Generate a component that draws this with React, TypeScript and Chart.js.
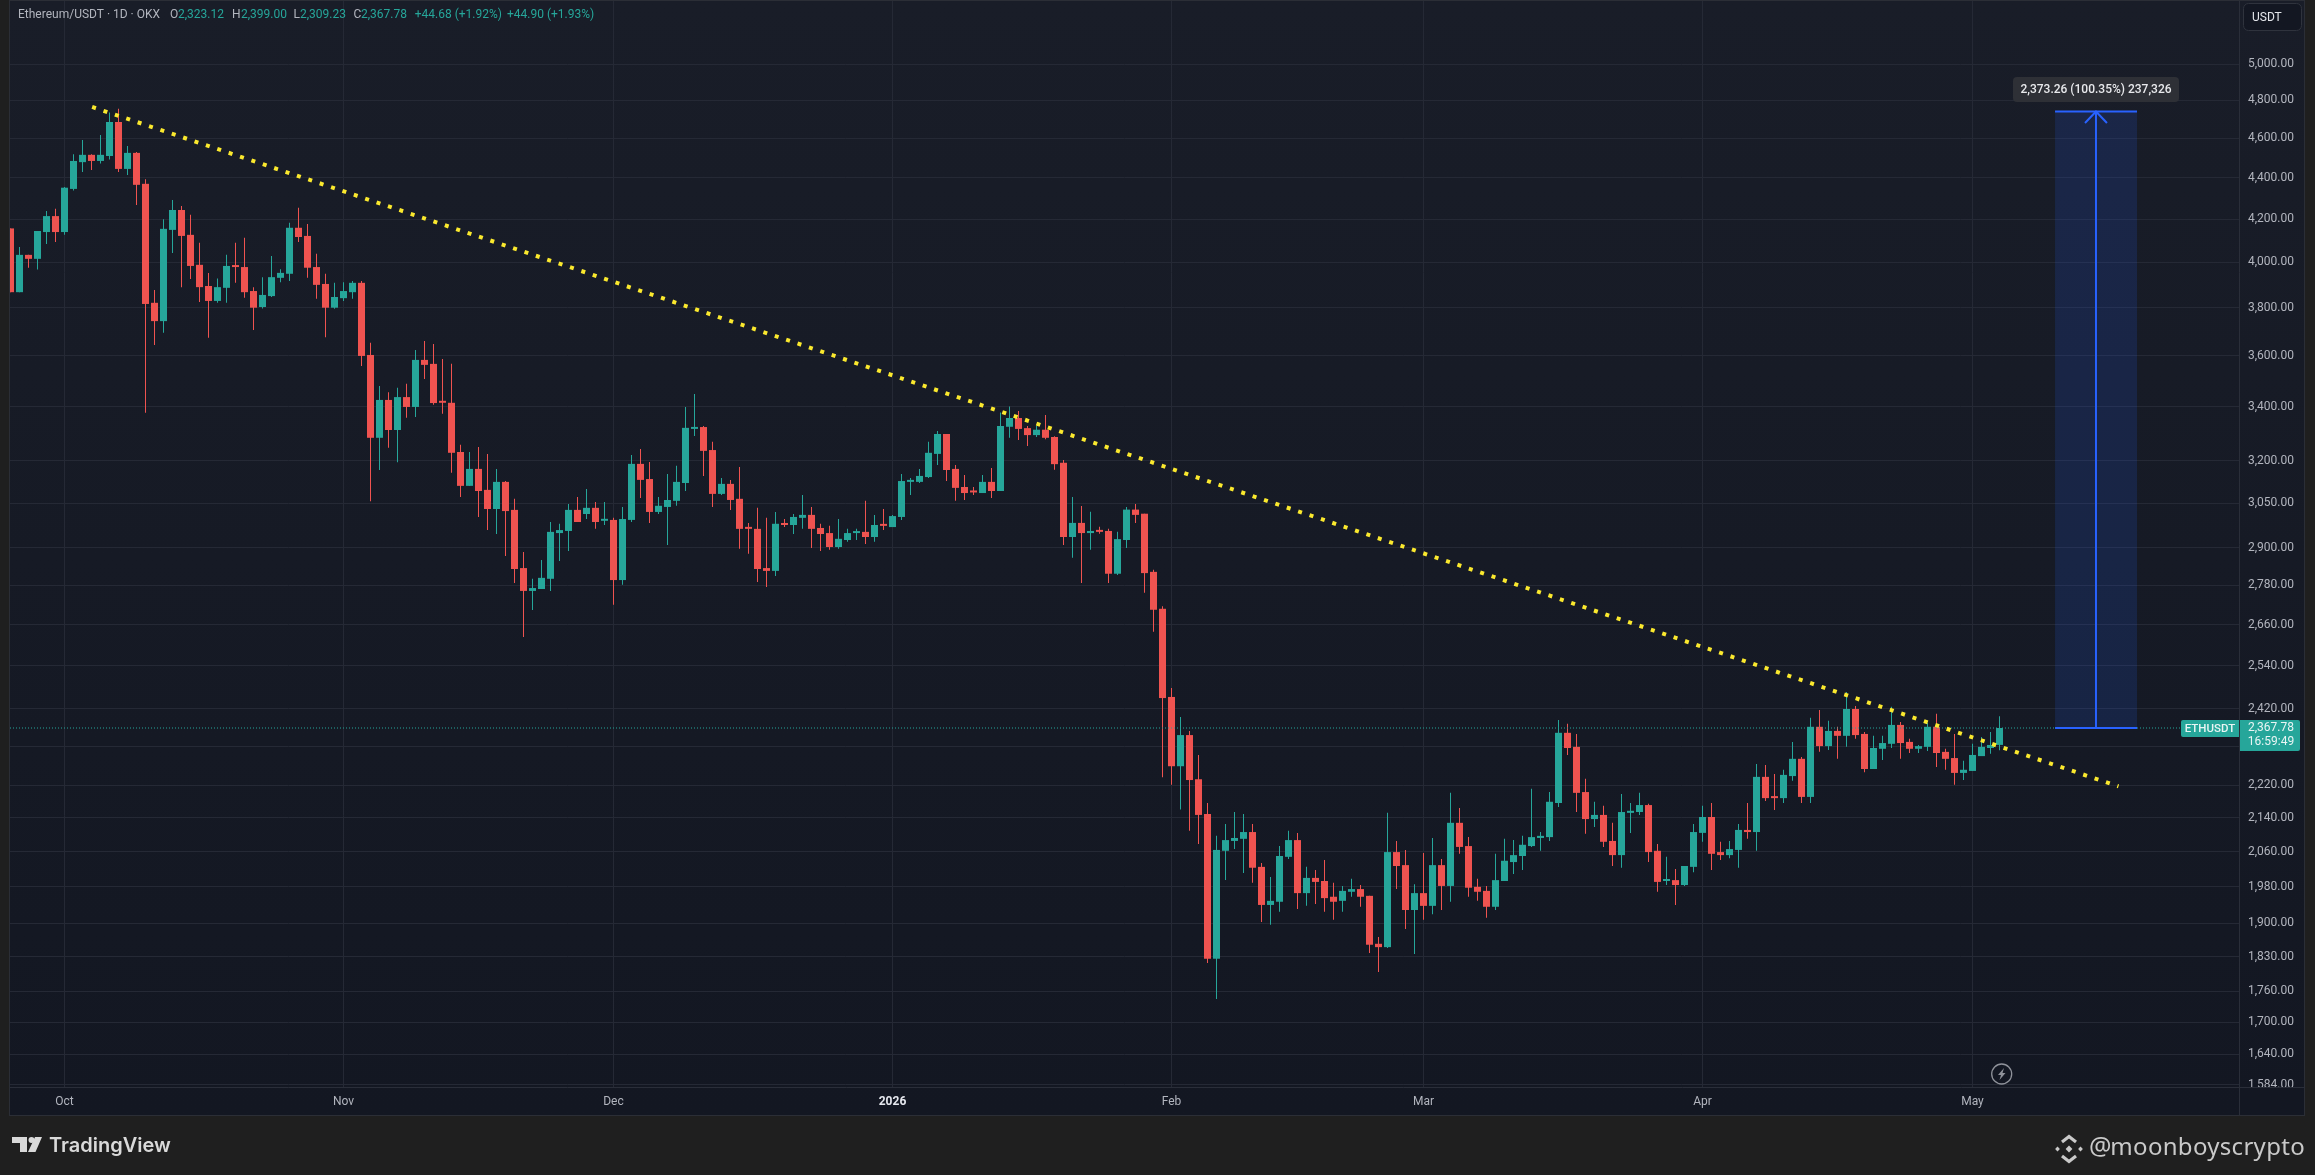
import React, { useEffect, useRef } from "react";
import { Chart, registerables } from "chart.js";

Chart.register(...registerables);

// Daily candles, 25 Sep 2025 (day -6 relative to 1 Oct) to 4 May 2026
const firstDay = -6;
const opens = [4156,3868,4034,4016,4139,4214,4139,4345,4478,4515,4484,4509,4685,4444,4525,4370,3822,3744,4149,4243,4126,3989,3895,3830,3887,3984,3979,3873,3804,3851,3931,3949,4159,4121,3979,3904,3801,3842,3868,3909,3604,3283,3426,3312,3437,3399,3584,3568,3418,3415,
3231,3110,3170,3096,3030,3124,3027,2835,2763,2769,2801,2949,2956,3027,3013,3034,2990,2993,2797,2993,3188,3134,3020,3037,3058,3120,3316,3323,3238,3082,3117,3065,2966,2963,2835,2826,2980,2976,3000,3010,2966,2949,2903,2926,2949,2953,2936,2976,2969,3003,3124,3124,3141,3224,3297,3170,
3106,3089,3085,3124,3092,3324,3357,3319,3293,3313,3286,3192,2936,2983,2949,2957,2956,2817,2926,3028,3014,2823,2708,2452,2268,2349,2235,
2149,1826,2062,2085,2090,2106,2025,1940,1947,2048,2087,1966,2000,1993,1958,1949,1969,1975,1960,1857,1850,2059,2029,1929,1966,1938,2029,1982,2128,2073,1980,1971,1936,1993,2036,2050,2073,2092,2094,2176,2355,2318,2203,2137,2147,2085,2052,2152,2154,2171,2062,1993,1995,1984,2025,2104,2142,2059,2052,2064,2111,2106,2241,2191,2188,2243,
2287,2191,2371,2320,2360,2347,2419,2352,2261,2313,2326,2376,2331,2313,2318,2371,2305,2289,2251,2256,2294,2315,2323.12];
const highs = [4156,4070,4034,4144,4238,4249,4354,4518,4591,4518,4617,4736,4755,4560,4529,4393,3878,4199,4291,4262,4220,4089,3952,3928,4034,4089,4112,3890,3934,4029,3969,4182,4254,4177,4039,3949,3909,3912,3917,3917,3654,3480,3456,3473,3489,3624,3661,3649,3588,3568,
3257,3231,3249,3224,3170,3127,3065,2887,2801,2861,2986,2980,3047,3071,3099,3054,3054,3000,3037,3220,3242,3195,3071,3152,3181,3399,3449,3327,3268,3138,3131,3177,2983,3034,3000,3020,2996,3013,3078,3037,2980,2973,2996,2963,2963,3058,3010,3030,3010,3152,3138,3170,3268,3308,3297,3184,
3148,3106,3148,3173,3378,3401,3384,3327,3327,3368,3289,3202,3071,3040,3021,2970,2963,2953,3037,3047,3014,2830,2716,2477,2397,2360,2297,
2176,2097,2125,2154,2149,2125,2034,2002,2073,2109,2104,2025,2018,2041,1989,1982,1998,1984,1960,1871,2152,2085,2064,1986,2057,2092,2043,2201,2164,2094,1998,1982,2055,2090,2087,2097,2211,2106,2203,2389,2379,2352,2236,2179,2169,2128,2198,2176,2201,2174,2078,2048,2020,2027,2125,2169,2176,2083,2085,2125,2176,2274,2271,2248,2259,2331,
2292,2395,2416,2387,2371,2466,2427,2357,2347,2347,2425,2384,2339,2323,2381,2406,2313,2352,2282,2326,2344,2357,2399];
const lows = [3868,3868,3976,3968,4084,4093,4126,4337,4428,4439,4471,4491,4428,4414,4267,3377,3645,3695,4043,3890,3926,3825,3674,3822,3822,3909,3844,3707,3798,3847,3912,3917,4093,3931,3839,3677,3796,3830,3839,3559,3057,3166,3246,3194,3358,3361,3508,3407,3373,3156,
3071,3110,3003,2959,2946,2874,2788,2623,2704,2769,2763,2858,2890,2986,2996,2963,2976,2720,2782,2986,3068,2983,3013,2910,3041,3092,3290,3145,3037,3078,3027,2897,2881,2791,2775,2810,2969,2946,2963,2900,2890,2894,2897,2920,2926,2913,2920,2959,2969,2993,3078,3120,3138,3184,3127,3058,
3061,3078,3085,3068,3092,3283,3275,3253,3286,3278,3167,2910,2868,2788,2894,2947,2788,2813,2900,2983,2757,2639,2240,2221,2160,2109,2078,
1817,1745,1995,2066,2011,1989,1903,1897,1925,2043,1931,1938,1942,1925,1908,1925,1958,1936,1838,1799,1848,1975,1888,1836,1908,1920,1929,1947,2055,1958,1949,1912,1929,1993,2009,2018,2071,2062,2085,2166,2297,2154,2102,2118,2071,2027,2023,2104,2147,2036,1969,1984,1940,1982,2013,2083,2018,2041,2045,2023,2090,2062,2181,2159,2176,2231,
2176,2176,2305,2310,2287,2318,2339,2253,2261,2284,2315,2287,2302,2302,2307,2266,2259,2221,2233,2256,2294,2300,2309.23];
const closes = [3868,4034,4016,4144,4214,4139,4351,4484,4515,4484,4515,4685,4444,4525,4365,3817,3744,4154,4243,4121,3984,3890,3830,3890,3984,3979,3868,3801,3856,3934,3953,4159,4116,3976,3900,3801,3847,3873,3909,3600,3283,3426,3312,3437,3399,3584,3564,3414,3415,3228,
3110,3170,3092,3030,3124,3023,2832,2763,2772,2804,2953,2959,3027,2986,3034,2986,2993,2797,2996,3188,3131,3020,3041,3061,3124,3320,3323,3235,3082,3117,3061,2963,2963,2832,2826,2980,2976,3003,3010,2963,2946,2903,2930,2949,2953,2936,2976,2973,3006,3127,3127,3145,3228,3297,3166,3103,
3085,3087,3124,3092,3327,3357,3316,3293,3313,3283,3187,2936,2983,2949,2956,2953,2817,2929,3028,3010,2819,2705,2449,2268,2349,2233,2147,
1826,2064,2087,2092,2106,2023,1940,1949,2050,2087,1966,2000,1991,1955,1947,1971,1975,1958,1855,1850,2059,2027,1929,1966,1938,2029,1982,2128,2071,1978,1969,1936,1995,2039,2052,2076,2094,2097,2179,2355,2315,2201,2137,2147,2083,2052,2154,2157,2171,2059,1991,1995,1984,2027,2106,2142,2055,2052,2066,2111,2106,2241,2188,2188,2246,2287,
2191,2371,2320,2360,2347,2419,2349,2261,2315,2328,2376,2328,2313,2320,2371,2302,2287,2251,2259,2297,2318,2323,2367.78];

const monthDays = [0, 31, 61, 92, 123, 151, 182, 212];
const monthLabels = ["Oct", "Nov", "Dec", "2026", "Feb", "Mar", "Apr", "May"];
const priceTicks = [5000,4800,4600,4400,4200,4000,3800,3600,3400,3200,3050,2900,2780,2660,2540,2420,2320,2220,2140,2060,1980,1900,1830,1760,1700,1640,1584];
const hiddenPriceTicks = [2320];

const lastClose = 2367.78;
const measureTop = 4741.04;
const measureHeadPrice = 4680;
const measureLeftDay = 221.17;
const measureRightDay = 230.28;
const measureMidDay = 225.72;
const measureHeadHalf = 1.22;
const trendStart = { x: 3.07, y: 4765 };
const trendEnd = { x: 228.22, y: 2217.25 };
const xMin = -6.0556;
const xMax = 241.611;
const yMin = 1580.4;
const yMax = 5369;

const UP = "#26a69a";
const DOWN = "#ef5350";
const BLUE = "#2962ff";
const GRID = "#252935";
const AXIS_TEXT = "#b2b5be";
const FONT = "Roboto";

const fmt = (v: number) => v.toLocaleString("en-US", { minimumFractionDigits: 2, maximumFractionDigits: 2 });

const painting = {
  id: "painting",
  beforeDraw(chart: any) {
    const c = chart.ctx as CanvasRenderingContext2D;
    c.save();
    c.fillStyle = "#1f1f1f";
    c.fillRect(0, 0, 2315, 1175);
    const g = c.createLinearGradient(0, 0, 0, 1115);
    g.addColorStop(0, "#191d28");
    g.addColorStop(1, "#131722");
    c.fillStyle = g;
    c.fillRect(10, 0, 2295, 1115);
    c.strokeStyle = "#2b2e36";
    c.lineWidth = 1;
    c.strokeRect(9.5, 0.5, 2295, 1115);
    c.restore();
  },
  afterDraw(chart: any) {
    const c = chart.ctx as CanvasRenderingContext2D;
    c.save();
    // price-axis corner under the axis
    c.fillStyle = "#131722";
    c.fillRect(2240, 1088, 64, 27);
    c.fillStyle = "#2a2e39";
    c.fillRect(2239, 1087, 66, 1);
    c.fillRect(2239, 1087, 1, 28);

    c.textBaseline = "middle";
    // header
    c.font = `12px ${FONT}`;
    const head: [string, number, string][] = [
      ["Ethereum/USDT · 1D · OKX", 18, AXIS_TEXT],
      ["O", 170, AXIS_TEXT], ["2,323.12", 178, UP],
      ["H", 232, AXIS_TEXT], ["2,399.00", 241, UP],
      ["L", 293.5, AXIS_TEXT], ["2,309.23", 300, UP],
      ["C", 353.5, AXIS_TEXT], ["2,367.78", 361, UP],
      ["+44.68 (+1.92%)", 414.7, UP],
      ["+44.90 (+1.93%)", 507, UP],
    ];
    head.forEach(([t, x, col]) => { c.fillStyle = col; c.fillText(t, x, 15); });

    // USDT button
    c.fillStyle = "#131722";
    c.strokeStyle = "#2f333d";
    c.lineWidth = 1;
    c.beginPath();
    c.roundRect(2243.5, 3.5, 58, 27, 5);
    c.fill();
    c.stroke();
    c.fillStyle = "#e4e6eb";
    c.fillText("USDT", 2252, 18);

    // measure tooltip
    c.fillStyle = "#2e3036";
    c.beginPath();
    c.roundRect(2013, 77, 166, 25, 4);
    c.fill();
    c.fillStyle = "#e8e9ec";
    c.font = `500 12px ${FONT}`;
    c.textAlign = "center";
    c.fillText("2,373.26 (100.35%) 237,326", 2096, 89.5);
    c.textAlign = "left";

    // last-price labels
    c.fillStyle = UP;
    c.beginPath();
    c.roundRect(2181, 720, 58, 17, [2, 0, 0, 2]);
    c.fill();
    c.beginPath();
    c.roundRect(2240, 720, 60, 31, [0, 2, 2, 0]);
    c.fill();
    c.fillStyle = "#e9f5f4";
    c.font = `500 11.5px ${FONT}`;
    c.textAlign = "center";
    c.fillText("ETHUSDT", 2210, 729);
    c.font = `12px ${FONT}`;
    c.fillText("2,367.78", 2271, 728);
    c.fillText("16:59:49", 2271, 742);
    c.textAlign = "left";

    // lightning badge
    c.strokeStyle = "#8f929a";
    c.lineWidth = 1.3;
    c.beginPath();
    c.arc(2001.7, 1074, 10, 0, Math.PI * 2);
    c.stroke();
    c.fillStyle = "#8f929a";
    c.beginPath();
    c.moveTo(2004, 1068);
    c.lineTo(1998, 1075);
    c.lineTo(2001, 1075);
    c.lineTo(1999.5, 1080);
    c.lineTo(2005.5, 1073);
    c.lineTo(2002.5, 1073);
    c.closePath();
    c.fill();

    // footer logo
    c.fillStyle = "#d9d9d9";
    c.beginPath();
    c.moveTo(12, 1137); c.lineTo(27, 1137); c.lineTo(27, 1152); c.lineTo(20, 1152); c.lineTo(20, 1143); c.lineTo(12, 1143);
    c.closePath();
    c.moveTo(42, 1137); c.lineTo(35, 1137); c.lineTo(28, 1152); c.lineTo(35.5, 1152);
    c.closePath();
    c.fill();
    c.beginPath();
    c.arc(31.5, 1140, 3, 0, Math.PI * 2);
    c.fill();
    c.font = "600 20px Inter";
    c.fillText("TradingView", 49, 1146);

    // footer handle
    c.fillStyle = "#c9c9c9";
    const diamond = (x: number, y: number, r: number) => {
      c.beginPath();
      c.moveTo(x, y - r); c.lineTo(x + r, y); c.lineTo(x, y + r); c.lineTo(x - r, y);
      c.closePath();
      c.fill();
    };
    diamond(2069, 1149, 3.4);
    diamond(2057.5, 1149, 2.4);
    diamond(2080.5, 1149, 2.4);
    c.strokeStyle = "#c9c9c9";
    c.lineWidth = 3.2;
    c.beginPath();
    c.moveTo(2062, 1142); c.lineTo(2069, 1136.5); c.lineTo(2076, 1142);
    c.moveTo(2062, 1156); c.lineTo(2069, 1161.5); c.lineTo(2076, 1156);
    c.stroke();
    c.font = "25px 'Noto Sans'";
    c.fillText("@", 2089, 1148);
    c.textAlign = "right";
    c.font = "24px 'Noto Sans'";
    (c as any).letterSpacing = "0.3px";
    c.fillText("moonboyscrypto", 2305, 1148);
    c.restore();
  },
};

export default function App() {
  const ref = useRef<HTMLCanvasElement>(null);
  useEffect(() => {
    const days = opens.map((_, i) => i + firstDay);
    const colors = opens.map((o, i) => (closes[i] >= o ? UP : DOWN));
    const zeroPad = (s: any) => { s.paddingTop = 0; s.paddingBottom = 0; s.paddingLeft = 0; s.paddingRight = 0; };
    const chart = new Chart(ref.current!, {
      type: "bar",
      data: {
        datasets: [
          {
            type: "line",
            data: [{ x: measureLeftDay, y: measureTop }, { x: measureRightDay, y: measureTop }],
            fill: { value: lastClose },
            backgroundColor: "rgba(41,98,255,0.15)",
            borderColor: BLUE,
            borderWidth: 2,
            pointRadius: 0,
            order: 1,
          },
          {
            type: "line",
            data: [{ x: measureLeftDay, y: lastClose }, { x: measureRightDay, y: lastClose }],
            borderColor: BLUE,
            borderWidth: 2,
            pointRadius: 0,
            order: 1,
          },
          {
            type: "line",
            data: [{ x: measureMidDay, y: lastClose }, { x: measureMidDay, y: measureTop }],
            borderColor: BLUE,
            borderWidth: 2,
            pointRadius: 0,
            order: 1,
          },
          {
            type: "line",
            data: [
              { x: measureMidDay - measureHeadHalf, y: measureHeadPrice },
              { x: measureMidDay, y: measureTop },
              { x: measureMidDay + measureHeadHalf, y: measureHeadPrice },
            ],
            borderColor: BLUE,
            borderWidth: 2,
            pointRadius: 0,
            order: 1,
          },
          {
            type: "line",
            data: [trendStart, trendEnd],
            borderColor: "#fbe92e",
            borderWidth: 4,
            borderDash: [4, 8],
            pointRadius: 0,
            order: 2,
          },
          {
            type: "line",
            data: [{ x: xMin, y: lastClose }, { x: xMax, y: lastClose }],
            borderColor: UP,
            borderWidth: 1,
            borderDash: [1, 2],
            pointRadius: 0,
            order: 3,
          },
          {
            type: "bar",
            data: days.map((d, i) => ({ x: d, y: [opens[i], closes[i]] })),
            backgroundColor: colors,
            borderWidth: 0,
            grouped: false,
            barPercentage: 1,
            categoryPercentage: 1,
            maxBarThickness: 7,
            minBarLength: 2,
            inflateAmount: 0,
            order: 4,
          },
          {
            type: "bar",
            data: days.map((d, i) => ({ x: d, y: [lows[i], highs[i]] })),
            backgroundColor: colors,
            borderWidth: 0,
            grouped: false,
            barPercentage: 1,
            categoryPercentage: 1,
            maxBarThickness: 1,
            inflateAmount: 0,
            order: 5,
          },
        ] as any,
      },
      options: {
        animation: false,
        responsive: false,
        devicePixelRatio: 1,
        events: [],
        layout: { padding: { left: 10, top: 1, right: 10, bottom: 60 } },
        plugins: { legend: { display: false }, tooltip: { enabled: false } },
        scales: {
          x: {
            type: "linear",
            offset: false,
            min: xMin,
            max: xMax,
            afterFit: (s: any) => { s.height = 28; zeroPad(s); },
            afterBuildTicks: (s: any) => { s.ticks = monthDays.map((value) => ({ value })); },
            grid: { color: GRID, drawTicks: false, lineWidth: 1, offset: false },
            border: { display: true, color: "#2a2e39" },
            ticks: {
              autoSkip: false,
              maxRotation: 0,
              padding: 8,
              includeBounds: false,
              callback: (v: any) => monthLabels[monthDays.indexOf(Number(v))] ?? "",
              color: (ctx: any) => (ctx.tick?.value === 92 ? "#e6e8ee" : AXIS_TEXT),
              font: (ctx: any) => ({ family: FONT, size: 12, weight: ctx.tick?.value === 92 ? "bold" : "normal" }),
            },
          },
          y: {
            type: "logarithmic",
            position: "right",
            min: yMin,
            max: yMax,
            afterFit: (s: any) => { s.width = 66; zeroPad(s); },
            afterBuildTicks: (s: any) => { s.ticks = priceTicks.map((value) => ({ value })); },
            grid: { color: GRID, drawTicks: false, lineWidth: 1 },
            border: { display: true, color: "#2a2e39" },
            ticks: {
              autoSkip: false,
              padding: 9,
              callback: (v: any) => (hiddenPriceTicks.includes(Number(v)) ? "" : fmt(Number(v))),
              color: AXIS_TEXT,
              font: { family: FONT, size: 12 },
            },
          },
        },
      },
      plugins: [painting],
    } as any);
    return () => chart.destroy();
  }, []);
  return (
    <div style={{ position: "absolute", left: 0, top: 0, width: 2315, height: 1175 }}>
      <canvas ref={ref} width={2315} height={1175} style={{ display: "block", width: 2315, height: 1175 }} />
    </div>
  );
}
